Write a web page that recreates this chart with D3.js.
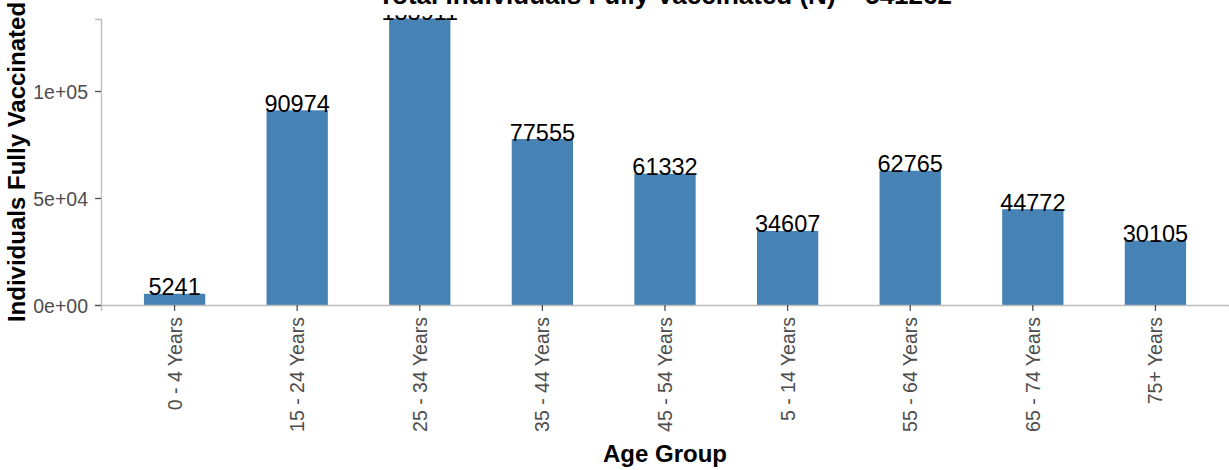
<!DOCTYPE html>
<html>
<head>
<meta charset="utf-8">
<script src="https://cdn.jsdelivr.net/npm/d3@7"></script>
<style>
body { margin: 0; background: #fff; }
svg { display: block; font-family: "Liberation Sans", Arial, sans-serif; }
.axis path, .axis line { stroke: #bdbdbd; stroke-width: 1.3; }
.axis .tick line { stroke: #4d4d4d; }
.axis text { fill: #4d4d4d; font-size: 19.5px; font-family: "Liberation Sans", Arial, sans-serif; }
</style>
</head>
<body>
<script>
var ageGroups = ["0 - 4 Years", "15 - 24 Years", "25 - 34 Years", "35 - 44 Years", "45 - 54 Years",
                 "5 - 14 Years", "55 - 64 Years", "65 - 74 Years", "75+ Years"];
var vaccinated = [5241, 90974, 133911, 77555, 61332, 34607, 62765, 44772, 30105];
var yTicks = [0, 50000, 100000];
var yTickLabels = ["0e+00", "5e+04", "1e+05"];
var total = 541262;

var W = 1229, H = 470;
// panel edges (note: "top" is a reserved window property, so prefix them)
var pLeft = 101, pRight = 1229, pTop = 19, pBottom = 305;
var clipTop = 15;

var svg = d3.select("body").append("svg")
  .attr("width", W)
  .attr("height", H);

svg.append("clipPath")
  .attr("id", "panel-clip")
  .append("rect")
  .attr("x", pLeft)
  .attr("y", clipTop)
  .attr("width", pRight - pLeft)
  .attr("height", pBottom - clipTop);

var x = d3.scaleBand()
  .domain(ageGroups)
  .range([pLeft, pRight])
  .paddingInner(0.5)
  .paddingOuter(0.35);

// 0 at the baseline, 1e+05 at y=91
var y = d3.scaleLinear().domain([0, 100000]).range([pBottom, 91]);
y.domain([0, y.invert(pTop)]).range([pBottom, pTop]);

var data = ageGroups.map(function (g, i) { return { group: g, value: vaccinated[i] }; });

// bars
svg.append("g").selectAll("rect")
  .data(data)
  .enter()
  .append("rect")
  .attr("x", function (d) { return x(d.group); })
  .attr("width", x.bandwidth())
  .attr("y", function (d) { return y(d.value); })
  .attr("height", function (d) { return pBottom - y(d.value); })
  .attr("fill", "#4682b4");

// axes
var yAxis = svg.append("g")
  .attr("class", "axis")
  .attr("transform", "translate(" + pLeft + ",0)")
  .call(d3.axisLeft(y).tickValues(yTicks).tickSizeOuter(0).tickSize(6).tickPadding(7)
    .tickFormat(function (d, i) { return yTickLabels[i]; }));
yAxis.selectAll("text").attr("dy", "0.36em");

var xAxis = svg.append("g")
  .attr("class", "axis")
  .attr("transform", "translate(0," + pBottom + ")")
  .call(d3.axisBottom(x).tickSizeOuter(0).tickSize(6).tickPadding(7));
xAxis.selectAll("text")
  .attr("transform", "rotate(-90)")
  .attr("text-anchor", "end")
  .attr("x", -12)
  .attr("y", 0)
  .attr("dy", "0.36em");

// value labels, clipped to the panel like the original
svg.append("g")
  .attr("clip-path", "url(#panel-clip)")
  .selectAll("text")
  .data(data)
  .enter()
  .append("text")
  .attr("x", function (d) { return x(d.group) + x.bandwidth() / 2; })
  .attr("y", function (d) { return y(d.value) + 1.5; })
  .attr("text-anchor", "middle")
  .attr("font-size", "23.5px")
  .attr("fill", "#000")
  .text(function (d) { return d.value; });

// titles
svg.append("text")
  .attr("x", (pLeft + pRight) / 2)
  .attr("y", 3.5)
  .attr("text-anchor", "middle")
  .attr("font-size", "26px")
  .attr("font-weight", "bold")
  .text("Total Individuals Fully Vaccinated (N) = " + total);

svg.append("text")
  .attr("x", (pLeft + pRight) / 2)
  .attr("y", 462)
  .attr("text-anchor", "middle")
  .attr("font-size", "24px")
  .attr("font-weight", "bold")
  .text("Age Group");

svg.append("text")
  .attr("transform", "translate(25," + (pTop + pBottom) / 2 + ") rotate(-90)")
  .attr("text-anchor", "middle")
  .attr("font-size", "24px")
  .attr("font-weight", "bold")
  .text("Individuals Fully Vaccinated");
</script>
</body>
</html>
